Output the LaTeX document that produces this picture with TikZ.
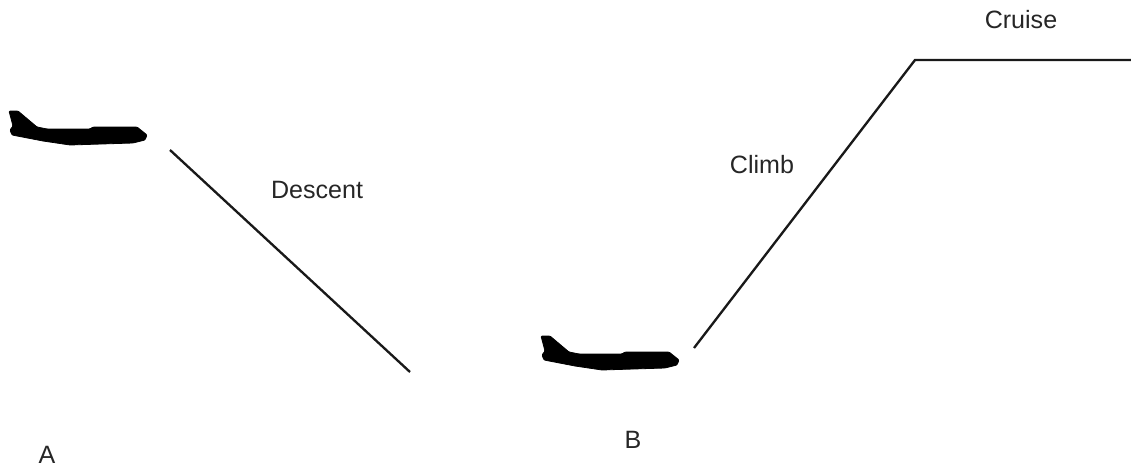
\documentclass[tikz,border=0pt]{standalone}
\usepackage{fontspec}
\setmainfont{Liberation Sans}
\tikzset{
  x=0.75pt,y=-0.75pt,
  flightpath/.style={draw=black!90,line width=1.75pt,line join=miter},
  lbl/.style={inner sep=0pt,font=\fontsize{18.8}{22}\selectfont,text=black!85},
  planeshape/.pic={
    \filldraw[black,line width=0.6pt,rounded corners=0.8pt] (9,11) -- (18,11) -- (37,27) -- (47,29) -- (90,29) -- (93,27) -- (137,27) -- (147,35) -- (145,40) -- (133,43) -- (70,45) -- (43,41) -- (12,35) -- (10,30) -- (13,26) -- cycle;
  }
}
\begin{document}
\begin{tikzpicture}
\useasboundingbox (0,0) rectangle (1131,467);
\pic at (0,100) {planeshape};
\pic at (532,325) {planeshape};
\coordinate (d1) at (170,150);
\coordinate (d2) at (410,372);
\coordinate (c1) at (694,348);
\coordinate (c2) at (915,60);
\coordinate (c3) at (1131,60);
\draw[flightpath] (d1) -- (d2);
\draw[flightpath] (c1) -- (c2) -- (c3);
\node[lbl] (descent) at (317,190) {Descent};
\node[lbl] (climb) at (762,165) {Climb};
\node[lbl] (cruise) at (1021,20) {Cruise};
\node[lbl] (a) at (47,455) {A};
\node[lbl] (b) at (633,440) {B};
\end{tikzpicture}
\end{document}
